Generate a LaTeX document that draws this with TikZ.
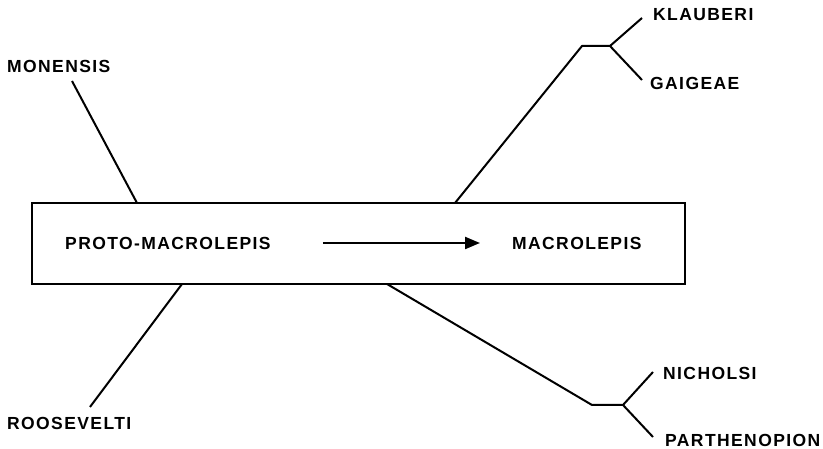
\documentclass[tikz,border=0pt]{standalone}
\usepackage{fontspec}
\setmainfont{Liberation Sans}
\newfontfamily\letterfont[LetterSpace=8]{Liberation Sans}
\usepackage{tikz}
\usetikzlibrary{calc,arrows.meta}

\tikzset{
  taxon/.style={font=\letterfont\fontsize{17.5}{20}\selectfont\bfseries, anchor=west, inner sep=0pt},
  branch/.style={black, line width=2pt, line join=round},
}

\begin{document}
\begin{tikzpicture}[x=1pt, y=-1pt]
  \useasboundingbox (0,0) rectangle (823,449);
  \node[draw, line width=2pt, minimum width=653pt, minimum height=81pt, inner sep=0pt, outer sep=0pt] (box) at (358.5,243.5) {};
  \node[taxon] (proto) at (65,243) {PROTO-MACROLEPIS};
  \node[taxon] (macro) at (512,243) {MACROLEPIS};
  \draw[line width=2.2pt, -{Triangle[length=15pt,width=12pt]}, shorten <=52pt, shorten >=32pt] (proto.east) -- (macro.west);

  \node[taxon] (monensis) at (7,66) {MONENSIS};
  \node[taxon] (roosevelti) at (7,423) {ROOSEVELTI};
  \node[taxon] (klauberi) at (653,15) {KLAUBERI};
  \node[taxon] (gaigeae) at (650,83) {GAIGEAE};
  \node[taxon] (nicholsi) at (663,373) {NICHOLSI};
  \node[taxon] (parthenopion) at (665,440) {PARTHENOPION};

  \coordinate (mon-tip) at (72,81);
  \coordinate (roo-tip) at (90,407);
  \coordinate (kg-knee) at (582,46);
  \coordinate (kg-fork) at (610,46);
  \coordinate (kla-tip) at (642,18);
  \coordinate (gai-tip) at (642,80);
  \coordinate (np-knee) at (592,405);
  \coordinate (np-fork) at (623,405);
  \coordinate (nic-tip) at (653,372);
  \coordinate (par-tip) at (653,437);

  \draw[branch] (mon-tip) -- ($(box.north west)+(105,0)$);
  \draw[branch] (roo-tip) -- ($(box.south west)+(150,0)$);
  \draw[branch] ($(box.north west)+(423,0)$) -- (kg-knee) -- (kg-fork) -- (kla-tip);
  \draw[branch] (kg-fork) -- (gai-tip);
  \draw[branch] ($(box.south west)+(355,0)$) -- (np-knee) -- (np-fork) -- (nic-tip);
  \draw[branch] (np-fork) -- (par-tip);
\end{tikzpicture}
\end{document}
